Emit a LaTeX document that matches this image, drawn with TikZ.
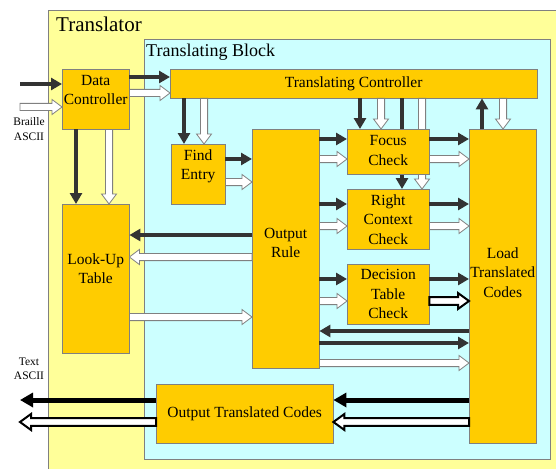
\documentclass[tikz,border=0pt]{standalone}
\usepackage{fontspec}
\setmainfont{Liberation Serif}
\usetikzlibrary{arrows.meta,calc}
\definecolor{Outer}{HTML}{FFFF99}
\definecolor{Inner}{HTML}{CCFFFF}
\definecolor{Block}{HTML}{FFCC00}
\definecolor{Dark}{HTML}{333333}
\definecolor{Rim}{HTML}{808080}

\begin{document}
\begin{tikzpicture}[x=1pt,y=-1pt,
  blk/.style={draw=Rim,fill=Block,anchor=north west,inner sep=0pt},
  txt/.style={align=center,inner sep=0pt,font=\fontsize{15.5}{19.5}\selectfont},
  lbl/.style={align=center,inner sep=1pt,font=\fontsize{11.5}{14.5}\selectfont},
  dark/.style={draw=Dark,line width=4.5pt,-{Triangle[length=11pt,width=12pt]}},
  darkb/.style={draw=black,line width=5pt,-{Triangle[length=13pt,width=14pt]}},
  arw/.code n args={3}{\def\hsw{#1}\def\hhw{#2}\def\hlen{#3}},
  hollow/.style={draw=Rim,fill=white,line width=0.8pt,arw={3.6pt}{7.5pt}{10pt},to path={
    let \p1=(\tikztostart),\p2=(\tikztotarget),\n1={atan2(\y2-\y1,\x2-\x1)} in
    ($(\p1)+(\n1+90:\hsw)$) -- ($(\p2)+(\n1:-\hlen)+(\n1+90:\hsw)$)
    -- ($(\p2)+(\n1:-\hlen)+(\n1+90:\hhw)$) -- (\p2)
    -- ($(\p2)+(\n1:-\hlen)+(\n1-90:\hhw)$) -- ($(\p2)+(\n1:-\hlen)+(\n1-90:\hsw)$)
    -- ($(\p1)+(\n1-90:\hsw)$) -- cycle}},
  hollowb/.style={hollow,draw=black,line width=2pt,arw={3.8pt}{8pt}{11pt}}]
  \clip (0,0) rectangle (556,468);
  \draw[Rim,fill=Outer] (48,10) rectangle (580,490);
  \draw[Rim,fill=Inner] (144,39) rectangle (550,459);
  \node[anchor=base west,inner sep=0pt,font=\fontsize{21}{25}\selectfont] (ttl) at (56,32) {Translator};
  \node[anchor=base west,inner sep=0pt,font=\fontsize{18}{22}\selectfont] (sub) at (146,57) {Translating Block};

  \node[blk,minimum width=67pt,minimum height=60pt] (dc) at (62,69) {};
  \node[blk,minimum width=367pt,minimum height=29pt] (tc) at (170,69) {};
  \node[blk,minimum width=54pt,minimum height=60pt] (fe) at (171,144) {};
  \node[blk,minimum width=67pt,minimum height=239pt] (orule) at (252,129) {};
  \node[blk,minimum width=67pt,minimum height=149pt] (lut) at (62,204) {};
  \node[blk,minimum width=82pt,minimum height=60pt] (rc) at (347,189) {};
  \node[blk,minimum width=82pt,minimum height=60pt] (dtc) at (347,264) {};
  \node[blk,minimum width=67pt,minimum height=314pt] (ltc) at (469,129) {};
  \node[blk,minimum width=177pt,minimum height=59pt] (otc) at (156,384) {};
  \draw[dark] (tc.south -| 402,0) -- (rc.north -| 402,0);
  \draw[hollow] (tc.south -| 422,0) to (rc.north -| 422,0);
  \node[blk,minimum width=82pt,minimum height=45pt] (fc) at (347,129) {};

  \node[txt] (dct) at ([yshift=9pt]dc.center) {Data\\Controller};
  \node[txt] (tct) at (tc.center) {Translating Controller};
  \node[txt] (fet) at ([yshift=8pt]fe.center) {Find\\Entry};
  \node[txt] (ort) at ([yshift=6pt]orule.center) {Output\\Rule};
  \node[txt] (lutt) at ([yshift=10pt]lut.center) {Look-Up\\Table};
  \node[txt] (fct) at ([yshift=1pt]fc.center) {Focus\\Check};
  \node[txt] (rct) at (rc.center) {Right\\Context\\Check};
  \node[txt] (dtct) at (dtc.center) {Decision\\Table\\Check};
  \node[txt] (ltct) at ([yshift=14pt]ltc.center) {Load\\Translated\\Codes};
  \node[txt] (otct) at (otc.center) {Output Translated Codes};
  \node[lbl] (brl) at (29,129) {Braille\\ASCII};
  \node[lbl] (txa) at (29,369) {Text\\ASCII};

  \coordinate (inB) at (20,84); \coordinate (inA) at (20,107);
  \coordinate (outB) at (20,400); \coordinate (outA) at (20,422);
  \draw[dark] (inB) -- (dc.west |- inB);
  \draw[hollow] (inA) to (dc.west |- inA);
  \draw[dark] (dc.east |- 0,77) -- (tc.west |- 0,77);
  \draw[hollow] (dc.east |- 0,93) to (tc.west |- 0,93);
  \draw[dark] (dc.south -| 76,0) -- (lut.north -| 76,0);
  \draw[hollow] (dc.south -| 109,0) to (lut.north -| 109,0);
  \draw[dark] (tc.south -| 184,0) -- (fe.north -| 184,0);
  \draw[hollow] (tc.south -| 204,0) to (fe.north -| 204,0);
  \draw[dark] (fe.east |- 0,159) -- (orule.west |- 0,159);
  \draw[hollow] (fe.east |- 0,182) to (orule.west |- 0,182);
  \draw[dark] (orule.west |- 0,235) -- (lut.east |- 0,235);
  \draw[hollow] (orule.west |- 0,257) to (lut.east |- 0,257);
  \draw[hollow] (lut.east |- 0,317) to (orule.west |- 0,317);
  \draw[dark] (tc.south -| 360,0) -- (fc.north -| 360,0);
  \draw[hollow] (tc.south -| 381,0) to (fc.north -| 381,0);
  \draw[dark] (orule.east |- 0,139) -- (fc.west |- 0,139);
  \draw[hollow] (orule.east |- 0,159) to (fc.west |- 0,159);
  \draw[dark] (fc.east |- 0,139) -- (ltc.west |- 0,139);
  \draw[hollow] (fc.east |- 0,159) to (ltc.west |- 0,159);
  \draw[dark] (orule.east |- 0,204) -- (rc.west |- 0,204);
  \draw[hollow] (orule.east |- 0,226) to (rc.west |- 0,226);
  \draw[dark] (rc.east |- 0,204) -- (ltc.west |- 0,204);
  \draw[hollow] (rc.east |- 0,226) to (ltc.west |- 0,226);
  \draw[dark] (orule.east |- 0,279) -- (dtc.west |- 0,279);
  \draw[hollow] (orule.east |- 0,301) to (dtc.west |- 0,301);
  \draw[dark] (dtc.east |- 0,279) -- (ltc.west |- 0,279);
  \draw[hollowb] (dtc.east |- 0,301) to (ltc.west |- 0,301);
  \draw[dark] (ltc.west |- 0,331) -- (orule.east |- 0,331);
  \draw[dark] (orule.east |- 0,343) -- (ltc.west |- 0,343);
  \draw[hollow] (orule.east |- 0,363) to (ltc.west |- 0,363);
  \draw[dark] (ltc.north -| 482,0) -- (tc.south -| 482,0);
  \draw[hollow] (tc.south -| 503,0) to (ltc.north -| 503,0);
  \draw[darkb] (ltc.west |- outB) -- (otc.east |- outB);
  \draw[hollowb] (ltc.west |- outA) to (otc.east |- outA);
  \draw[darkb] (otc.west |- outB) -- (outB);
  \draw[hollowb] (otc.west |- outA) to (outA);
\end{tikzpicture}
\end{document}
